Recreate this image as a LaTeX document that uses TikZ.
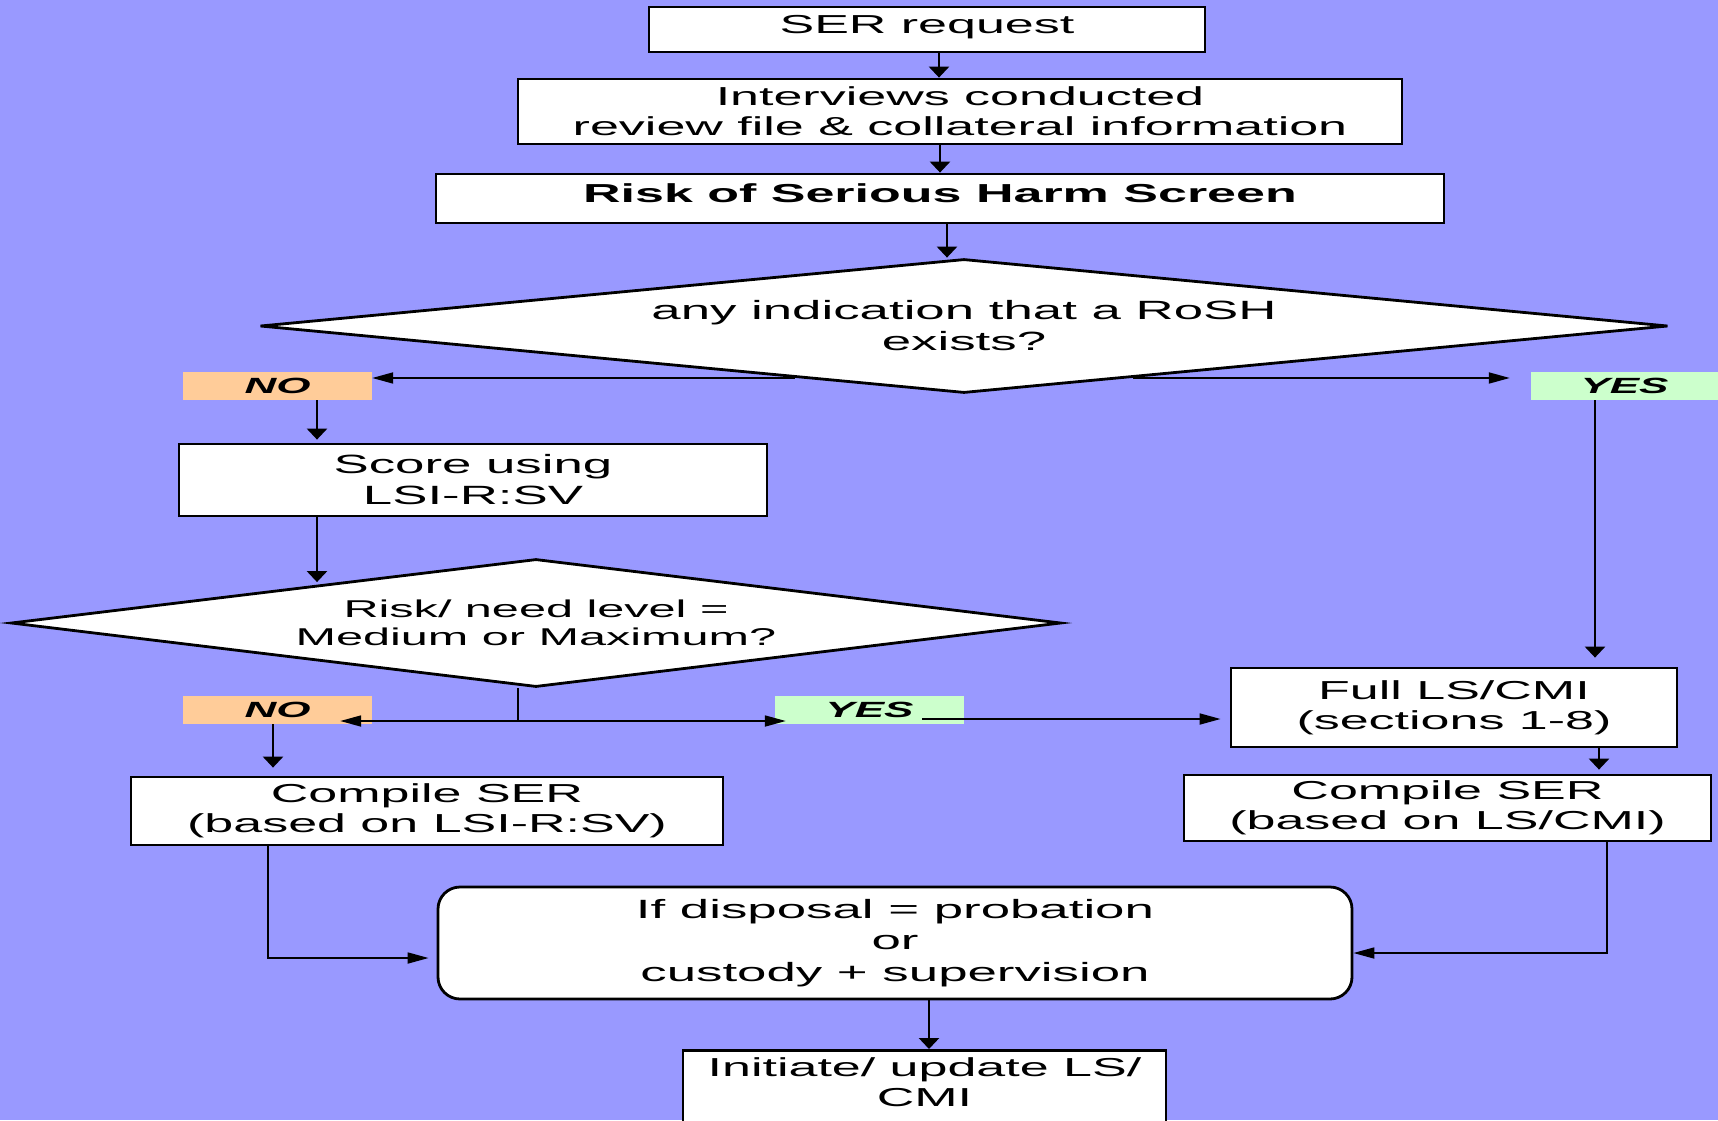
\documentclass[tikz,border=0pt]{standalone}
\usepackage{fontspec}
\setmainfont[FakeStretch=2.0]{Liberation Sans}
\usetikzlibrary{shapes.geometric,arrows.meta,calc}
\definecolor{bgblue}{HTML}{9999FF}
\definecolor{noorange}{HTML}{FFCC99}
\definecolor{yesgreen}{HTML}{CCFFCC}
\begin{document}
\begin{tikzpicture}[x=1pt,y=-1pt,
  every node/.style={font=\fontsize{26}{30}\selectfont},
  box/.style={draw=black, fill=white, line width=2.8pt, inner sep=0pt, align=center, rectangle},
  decision/.style={draw=black, fill=white, line width=2.8pt, inner sep=0pt, align=center, diamond},
  tag/.style={rectangle, inner sep=0pt, minimum height=28pt, minimum width=189pt,
    font=\fontsize{22}{26}\selectfont\bfseries\itshape},
  conn/.style={line width=2.6pt},
  thinconn/.style={line width=1.8pt},
  vtip/.style={-{Triangle[length=11pt,width=20pt]}},
  htip/.style={-{Triangle[length=21pt,width=11pt]}}]
\useasboundingbox (0,0) rectangle (1718,1120);
\fill[bgblue] (0,0) rectangle (1718,1120);

% boxes
\node[box, minimum width=556pt, minimum height=45pt, text height=18.6pt, text depth=11.6pt] (ser) at (927,29.5) {SER request};
\node[box, minimum width=884pt, minimum height=65pt] (int) at (960,111.5) {Interviews conducted\\review file \& collateral information};
\node[box, minimum width=1008pt, minimum height=49pt, text height=18.6pt, text depth=11.6pt, font=\fontsize{26}{30}\selectfont\bfseries] (rosh) at (940,198.5) {Risk of Serious Harm Screen};
\node[decision, aspect=10.5, minimum width=1408pt, minimum height=134pt, font=\fontsize{26.4}{31}\selectfont] (d1) at (964,326) {any indication that a RoSH\\exists?};

\node[tag, fill=noorange] (no1) at (277.5,386) {NO};
\node[tag, fill=yesgreen, minimum width=187pt] (yes1) at (1624.5,386) {YES};

\node[box, minimum width=588pt, minimum height=72pt, font=\fontsize{26.4}{31}\selectfont] (score) at (473,480) {Score using\\LSI-R:SV};
\node[decision, aspect=8.2, minimum width=1050pt, minimum height=128pt, font=\fontsize{24.3}{28}\selectfont] (d2) at (536,623) {Risk/ need level =\\Medium or Maximum?};

\node[box, minimum width=446pt, minimum height=79pt] (full) at (1454,707.5) {Full LS/CMI\\(sections 1-8)};
\node[tag, fill=noorange] (no2) at (277.5,710) {NO};
\node[tag, fill=yesgreen] (yes2) at (869.5,710) {YES};

\node[box, minimum width=592pt, minimum height=68pt] (cmpL) at (427,811) {Compile SER\\(based on LSI-R:SV)};
\node[box, minimum width=527pt, minimum height=66pt] (cmpR) at (1447.5,808) {Compile SER\\(based on LS/CMI)};

\node[box, rounded corners=22pt, minimum width=914pt, minimum height=112pt, font=\fontsize{26.4}{31.5}\selectfont] (disp) at (895,943) {If disposal = probation\\or\\custody + supervision};
\node[box, anchor=north, minimum width=483pt, inner ysep=7pt, text depth=110pt] (fin) at (924.5,1049) {Initiate/ update LS/\\CMI};

% helper coordinates
\coordinate (d1a) at ($(d1.west)!0.76!(d1.south)$);
\coordinate (d1b) at ($(d1.east)!0.76!(d1.south)$);
\coordinate (d2w) at ($(d2.west)!0.58!(d2.north)$);
\coordinate (j) at (518,721);
\coordinate (y2s) at ($(yes2.east)+(-42,9)$);

% connectors
\draw[conn, vtip] ([xshift=12pt]ser.south) -- ([xshift=12pt]ser.south |- int.north);
\draw[conn, vtip] ([xshift=-20pt]int.south) -- ([xshift=-20pt]int.south |- rosh.north);
\draw[conn, vtip] ([xshift=7pt]rosh.south) -- ([xshift=7pt]rosh.south |- d1.north);
\draw[thinconn, htip] (d1a) -- (d1a -| no1.east);
\draw[thinconn, htip, shorten >=21pt] (d1b) -- (d1b -| yes1.west);
\draw[conn, vtip, shorten >=3pt] ([xshift=39.5pt]no1.south) -- ([xshift=39.5pt]no1.south |- score.north);
\draw[conn, vtip, shorten >=9pt] ([xshift=-29.5pt]yes1.south) -- ([xshift=-29.5pt]yes1.south |- full.north);
\draw[conn, vtip, shorten >=3pt] ([xshift=-156pt]score.south) -- ([xshift=-156pt]score.south |- d2w);
\draw[thinconn] (j |- d2.south) -- (j);
\draw[thinconn, htip, shorten >=-32pt] (j) -- (j -| no2.east);
\draw[thinconn, htip, shorten >=-11pt] (j) -- (j -| yes2.west);
\draw[thinconn, htip, shorten >=9pt] (y2s) -- (y2s -| full.west);
\draw[conn, vtip, shorten >=8pt] ([xshift=-4.5pt]no2.south) -- ([xshift=-4.5pt]no2.south |- cmpL.north);
\draw[conn, vtip, shorten >=4pt] ([xshift=145pt]full.south) -- ([xshift=145pt]full.south |- cmpR.north);
\draw[thinconn, htip, shorten >=8pt] ([xshift=-159pt]cmpL.south) |- ($(disp.west)+(0,15)$);
\draw[thinconn, htip] ([xshift=159.5pt]cmpR.south) |- ($(disp.east)+(0,10)$);
\draw[conn, vtip] ([xshift=34pt]disp.south) -- ([xshift=34pt]disp.south |- fin.north);
\end{tikzpicture}
\end{document}
